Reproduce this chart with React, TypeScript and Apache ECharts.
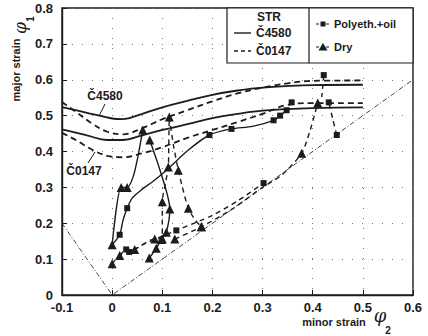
import React, { useEffect, useRef } from "react";
import * as echarts from "echarts";

// ---- tick values ----
const xTicks = [-0.1, 0, 0.1, 0.2, 0.3, 0.4, 0.5, 0.6];
const yTicks = [0, 0.1, 0.2, 0.3, 0.4, 0.5, 0.6, 0.7, 0.8];

// ---- reference strain-path lines (uniaxial / equibiaxial) ----
const refLine = [[-0.1, 0.2], [0, 0], [0.6, 0.6]];

// ---- STR forming limit curves ----
const str4580Upper = [[-0.1, 0.524], [-0.05, 0.508], [0, 0.492], [0.02, 0.49], [0.06, 0.505], [0.1, 0.523], [0.15, 0.541], [0.2, 0.558], [0.25, 0.57], [0.3, 0.578], [0.4, 0.585], [0.5, 0.586]];
const str4580Lower = [[-0.1, 0.462], [-0.05, 0.445], [-0.01, 0.432], [0.02, 0.432], [0.06, 0.445], [0.1, 0.46], [0.15, 0.476], [0.2, 0.493], [0.25, 0.505], [0.3, 0.514], [0.4, 0.521], [0.5, 0.523]];
const str0147Upper = [[-0.1, 0.538], [-0.07, 0.508], [-0.04, 0.478], [-0.01, 0.455], [0.02, 0.448], [0.06, 0.465], [0.1, 0.49], [0.15, 0.515], [0.2, 0.54], [0.25, 0.562], [0.3, 0.578], [0.35, 0.59], [0.4, 0.597], [0.5, 0.598]];
const str0147Lower = [[-0.1, 0.452], [-0.07, 0.43], [-0.04, 0.405], [-0.01, 0.388], [0.02, 0.384], [0.06, 0.395], [0.1, 0.412], [0.15, 0.438], [0.2, 0.46], [0.25, 0.482], [0.3, 0.505], [0.35, 0.53], [0.4, 0.535], [0.5, 0.535]];

// ---- measured strain paths: [minor, major, marker(1) or not(0)] ----
// Č4580 (solid)
const oil4580 = [[0, 0.14, 0], [0.015, 0.168, 1], [0.022, 0.21, 0], [0.03, 0.242, 1], [0.04, 0.27, 0], [0.06, 0.295, 0], [0.08, 0.315, 0], [0.11, 0.35, 0], [0.152, 0.404, 0], [0.194, 0.446, 1], [0.238, 0.463, 1], [0.28, 0.47, 0], [0.322, 0.487, 1], [0.335, 0.5, 1], [0.348, 0.515, 1]];
const dry4580a = [[0, 0.14, 1], [0.018, 0.3, 1], [0.03, 0.3, 1], [0.042, 0.33, 0], [0.052, 0.39, 0], [0.061, 0.46, 1]];
const dry4580b = [[0.074, 0.103, 1], [0.088, 0.13, 1], [0.098, 0.155, 1], [0.108, 0.175, 1], [0.115, 0.24, 1], [0.11, 0.28, 0], [0.095, 0.35, 0], [0.075, 0.432, 1]];
// Č0147 (dashed)
const dry0147a = [[0, 0.087, 1], [0.015, 0.11, 1], [0.045, 0.127, 1], [0.085, 0.156, 1], [0.1, 0.156, 1], [0.1, 0.2, 0], [0.1, 0.26, 1], [0.106, 0.31, 0], [0.112, 0.357, 1], [0.113, 0.43, 0], [0.114, 0.496, 1]];
const dry0147b = [[0.114, 0.496, 0], [0.122, 0.42, 0], [0.132, 0.348, 1], [0.142, 0.29, 0], [0.152, 0.242, 1], [0.165, 0.21, 0], [0.178, 0.19, 1]];
const dry0147c = [[0.125, 0.156, 1], [0.178, 0.19, 1], [0.24, 0.24, 0], [0.3, 0.3, 0], [0.338, 0.334, 0], [0.378, 0.395, 1], [0.395, 0.46, 0], [0.41, 0.535, 1]];
const oil0147a = [[0.015, 0.11, 0], [0.028, 0.127, 1], [0.034, 0.12, 1], [0.06, 0.14, 0], [0.128, 0.18, 1], [0.2, 0.222, 0], [0.25, 0.262, 0], [0.302, 0.312, 1]];
const oil0147b = [[0.448, 0.446, 1], [0.44, 0.49, 0], [0.432, 0.537, 1]];
const oil0147c = [[0.422, 0.613, 1], [0.42, 0.58, 0], [0.418, 0.552, 0]];
const oil0147d = [[0.358, 0.537, 1]];

const INK = "#1c1c1c";
const FONT = "Liberation Sans";

function curve(data: number[][], dashed: boolean) {
  return {
    type: "line",
    data,
    smooth: 0.4,
    symbol: "none",
    silent: true,
    z: 2,
    lineStyle: { color: INK, width: 1.8, type: dashed ? [6, 4] : "solid" },
  };
}

function path(pts: number[][], shape: string, dashed: boolean) {
  return {
    type: "line",
    smooth: 0.25,
    silent: true,
    z: 3,
    data: pts.map((p) => ({
      value: [p[0], p[1]],
      symbol: p[2] ? shape : "none",
      symbolSize: shape === "triangle" ? 9 : 6,
    })),
    itemStyle: { color: INK, borderWidth: 0 },
    lineStyle: { color: INK, width: 1.4, type: dashed ? [5, 4] : "solid" },
  };
}

const fmt = (v: number) => (Math.abs(v) < 1e-9 ? "0" : v.toFixed(1));

export default function App() {
  const ref = useRef<HTMLDivElement>(null);
  useEffect(() => {
    const chart = echarts.init(ref.current!, null, { renderer: "svg" });
    const label = { fontFamily: FONT, fontWeight: "bold", fontSize: 13, color: INK };
    chart.setOption({
      animation: false,
      backgroundColor: "#fff",
      grid: { left: 62, right: 15, top: 8, bottom: 41, show: true, borderColor: INK, borderWidth: 1.4, backgroundColor: "transparent" },
      xAxis: {
        type: "value",
        min: xTicks[0],
        max: xTicks[xTicks.length - 1],
        interval: 0.1,
        axisLine: { show: true, onZero: false, lineStyle: { color: INK, width: 1.4 } },
        axisTick: { show: true, inside: true, length: 5, lineStyle: { color: INK } },
        axisLabel: { ...label, margin: 6, formatter: fmt },
        splitLine: { show: true, lineStyle: { color: "#777", width: 1, type: [1, 9] } },
      },
      yAxis: {
        type: "value",
        min: yTicks[0],
        max: yTicks[yTicks.length - 1],
        interval: 0.1,
        axisLine: { show: true, onZero: false, lineStyle: { color: INK, width: 1.4 } },
        axisTick: { show: true, inside: true, length: 5, lineStyle: { color: INK } },
        axisLabel: { ...label, margin: 9, formatter: fmt },
        splitLine: { show: true, lineStyle: { color: "#777", width: 1, type: [1, 9] } },
      },
      series: [
        {
          type: "line",
          data: refLine,
          symbol: "none",
          silent: true,
          z: 1,
          lineStyle: { color: "#333", width: 0.9, type: [5, 2, 1, 2] },
        },
        curve(str4580Upper, false),
        curve(str4580Lower, false),
        curve(str0147Upper, true),
        curve(str0147Lower, true),
        path(oil4580, "rect", false),
        path(dry4580a, "triangle", false),
        path(dry4580b, "triangle", false),
        path(dry0147a, "triangle", true),
        path(dry0147b, "triangle", true),
        path(dry0147c, "triangle", true),
        path(oil0147a, "rect", true),
        path(oil0147b, "rect", true),
        path(oil0147c, "rect", true),
        path(oil0147d, "rect", true),
      ],
      graphic: [
        // legend box
        { type: "rect", shape: { x: 227, y: 8, width: 186, height: 55 }, style: { fill: "#fff", stroke: INK, lineWidth: 1.2 }, z: 10 },
        { type: "line", shape: { x1: 309, y1: 8, x2: 309, y2: 63 }, style: { stroke: INK, lineWidth: 1.2 }, z: 11 },
        { type: "text", x: 269, y: 17, style: { text: "STR", fontFamily: FONT, fontWeight: "bold", fontSize: 12, fill: INK, align: "center", verticalAlign: "middle" }, z: 11 },
        { type: "line", shape: { x1: 234, y1: 33, x2: 251, y2: 33 }, style: { stroke: INK, lineWidth: 1.4 }, z: 11 },
        { type: "text", x: 256, y: 33, style: { text: "Č4580", fontFamily: FONT, fontWeight: "bold", fontSize: 12, fill: INK, align: "left", verticalAlign: "middle" }, z: 11 },
        { type: "line", shape: { x1: 234, y1: 51, x2: 251, y2: 51 }, style: { stroke: INK, lineWidth: 1.4, lineDash: [4, 3] }, z: 11 },
        { type: "text", x: 256, y: 51, style: { text: "Č0147", fontFamily: FONT, fontWeight: "bold", fontSize: 12, fill: INK, align: "left", verticalAlign: "middle" }, z: 11 },
        { type: "line", shape: { x1: 316, y1: 24, x2: 330, y2: 24 }, style: { stroke: INK, lineWidth: 1.2, lineDash: [3, 2] }, z: 11 },
        { type: "rect", shape: { x: 320.5, y: 21.5, width: 5, height: 5 }, style: { fill: INK }, z: 12 },
        { type: "text", x: 334, y: 24, style: { text: "Polyeth.+oil", fontFamily: FONT, fontWeight: "bold", fontSize: 11, fill: INK, align: "left", verticalAlign: "middle" }, z: 11 },
        { type: "line", shape: { x1: 316, y1: 47, x2: 330, y2: 47 }, style: { stroke: INK, lineWidth: 1.2, lineDash: [3, 2] }, z: 11 },
        { type: "polygon", shape: { points: [[323, 43], [327.5, 50.5], [318.5, 50.5]] }, style: { fill: INK }, z: 12 },
        { type: "text", x: 334, y: 47, style: { text: "Dry", fontFamily: FONT, fontWeight: "bold", fontSize: 11, fill: INK, align: "left", verticalAlign: "middle" }, z: 11 },
        // curve labels
        { type: "text", x: 105, y: 96, style: { text: "Č4580", fontFamily: FONT, fontWeight: "bold", fontSize: 12, fill: INK, align: "center", verticalAlign: "middle" }, z: 11 },
        { type: "line", shape: { x1: 105, y1: 104, x2: 99, y2: 116 }, style: { stroke: INK, lineWidth: 1 }, z: 11 },
        { type: "text", x: 84, y: 171, style: { text: "Č0147", fontFamily: FONT, fontWeight: "bold", fontSize: 12, fill: INK, align: "center", verticalAlign: "middle" }, z: 11 },
        { type: "line", shape: { x1: 88, y1: 163, x2: 95, y2: 152 }, style: { stroke: INK, lineWidth: 1 }, z: 11 },
        // y axis name
        { type: "text", x: 16, y: 70, rotation: Math.PI / 2, style: { text: "major strain", fontFamily: FONT, fontWeight: "bold", fontSize: 11, fill: INK, align: "center", verticalAlign: "middle" } },
        { type: "text", x: 20, y: 28, rotation: Math.PI / 2, style: { text: "φ", fontFamily: "DejaVu Serif", fontStyle: "italic", fontSize: 17, fill: INK, align: "center", verticalAlign: "middle" } },
        { type: "text", x: 30, y: 19, rotation: Math.PI / 2, style: { text: "1", fontFamily: FONT, fontWeight: "bold", fontSize: 10, fill: INK, align: "center", verticalAlign: "middle" } },
        // x axis name
        { type: "text", x: 334, y: 322, style: { text: "minor strain", fontFamily: FONT, fontWeight: "bold", fontSize: 11, fill: INK, align: "center", verticalAlign: "middle" } },
        { type: "text", x: 380, y: 315, style: { text: "φ", fontFamily: "DejaVu Serif", fontStyle: "italic", fontSize: 18, fill: INK, align: "center", verticalAlign: "middle" } },
        { type: "text", x: 388, y: 330, style: { text: "2", fontFamily: FONT, fontWeight: "bold", fontSize: 10, fill: INK, align: "center", verticalAlign: "middle" } },
      ],
    });
    return () => chart.dispose();
  }, []);
  return <div ref={ref} style={{ width: 428, height: 336, position: "absolute", left: 0, top: 0 }} />;
}
